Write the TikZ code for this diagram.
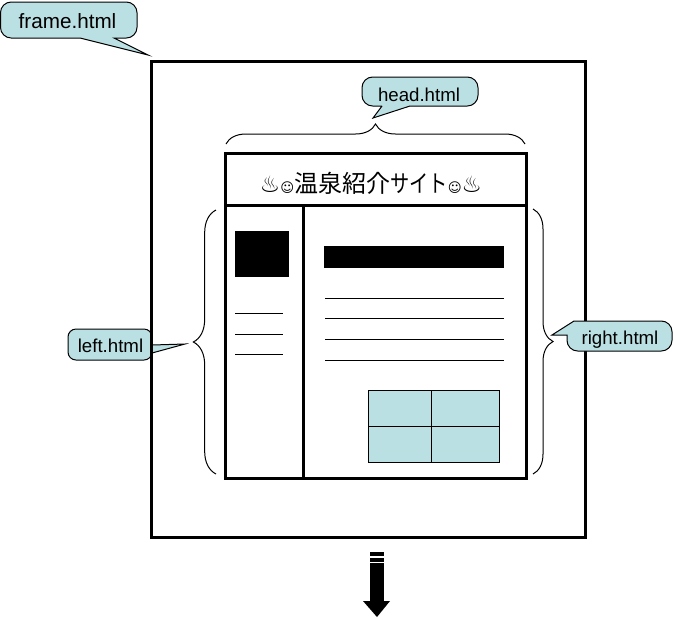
\documentclass[tikz,border=0pt]{standalone}
\usepackage{fontspec}
\setmainfont{Liberation Sans}
\newfontfamily\jpfont{Noto Sans CJK JP}
\newfontfamily\symfont{DejaVu Sans}
\usetikzlibrary{decorations.pathreplacing}
\definecolor{bubblefill}{RGB}{187,224,227}
\tikzset{
  bubble/.style={draw=black,fill=bubblefill,line width=0.75pt},
  bubble text/.style={font=\fontsize{14}{16}\selectfont},
  curly/.style={decorate,decoration={brace,amplitude=#1},line width=0.75pt},
  thick box/.style={draw=black,line width=2.25pt},
  thin rule/.style={line width=0.75pt}
}
\begin{document}
\begin{tikzpicture}[x=0.75pt,y=-0.75pt]
\useasboundingbox (0,0) rectangle (673,619);
% label behind the outer frame
\draw[bubble] (152,345) -- (185,344) -- (152,353) [rounded corners=6pt] -- (152,360) -- (68,360) -- (68,329) -- (152,329) -- (152,345);
\node[bubble text] (leftlabel) at (110.5,345.5) {left.html};
% outer frame and page
\draw[thick box] (151.5,61.5) rectangle (585,537);
\draw[thick box] (225.5,153.5) rectangle (526,478);
\draw[thick box] (225.5,205) -- (526,205);
\draw[thick box] (303,205) -- (303,478);
\node[inner sep=0pt] (pagetitle) at (371,183) {\symfont\fontsize{17}{20}\selectfont ♨\fontsize{10}{12}\selectfont ☺\jpfont\fontsize{18}{20}\selectfont 温泉紹介\scalebox{0.8}[1]{サイト}\symfont\fontsize{10}{12}\selectfont ☺\fontsize{17}{20}\selectfont ♨};
% left column
\fill (235,231) rectangle (289,277);
\foreach \ypos in {313,334,354}
  \draw[thin rule] (235,\ypos) -- (283,\ypos);
% right column
\fill (324,246) rectangle (504,268);
\foreach \ypos in {298,318,339,360}
  \draw[thin rule] (325,\ypos) -- (504,\ypos);
\draw[thin rule,fill=bubblefill] (368,390) rectangle (499.5,462);
\draw[thin rule] (431.5,390) -- (431.5,462);
\draw[thin rule] (368,426) -- (499.5,426);
% braces
\coordinate (headstart) at (226,144);
\coordinate (headend) at (525,144);
\coordinate (leftstart) at (216,474);
\coordinate (leftend) at (216,210);
\coordinate (rightstart) at (533,209);
\coordinate (rightend) at (533,474);
\draw[curly=15pt] (headstart) -- (headend);
\draw[curly=17pt] (leftstart) -- (leftend);
\draw[curly=15pt] (rightstart) -- (rightend);
% labels
\draw[bubble] (80,38) -- (148,55) -- (114,38) [rounded corners=8pt] -- (137,38) -- (137,2) -- (0.5,2) -- (0.5,38) -- (80,38);
\node[bubble text,font=\fontsize{15.5}{18}\selectfont] (framelabel) at (67.5,21) {frame.html};
\draw[bubble] (382,106) -- (373,118) -- (410,106) [rounded corners=8pt] -- (478,106) -- (478,77) -- (362,77) -- (362,106) -- (382,106);
\node[bubble text] (headlabel) at (419,94.5) {head.html};
\draw[bubble] (574,321) -- (552,335) -- (567,335) [rounded corners=8pt] -- (567,351) -- (672,351) -- (672,321) -- (574,321);
\node[bubble text] (rightlabel) at (620,339.5) {right.html};
% arrow at the bottom
\fill (370,552) rectangle (384,601);
\fill (363,601) -- (390,601) -- (377,617) -- cycle;
\fill[white] (370,556) rectangle (384,557.5);
\fill[white] (370,561.5) rectangle (384,563);
\end{tikzpicture}
\end{document}
